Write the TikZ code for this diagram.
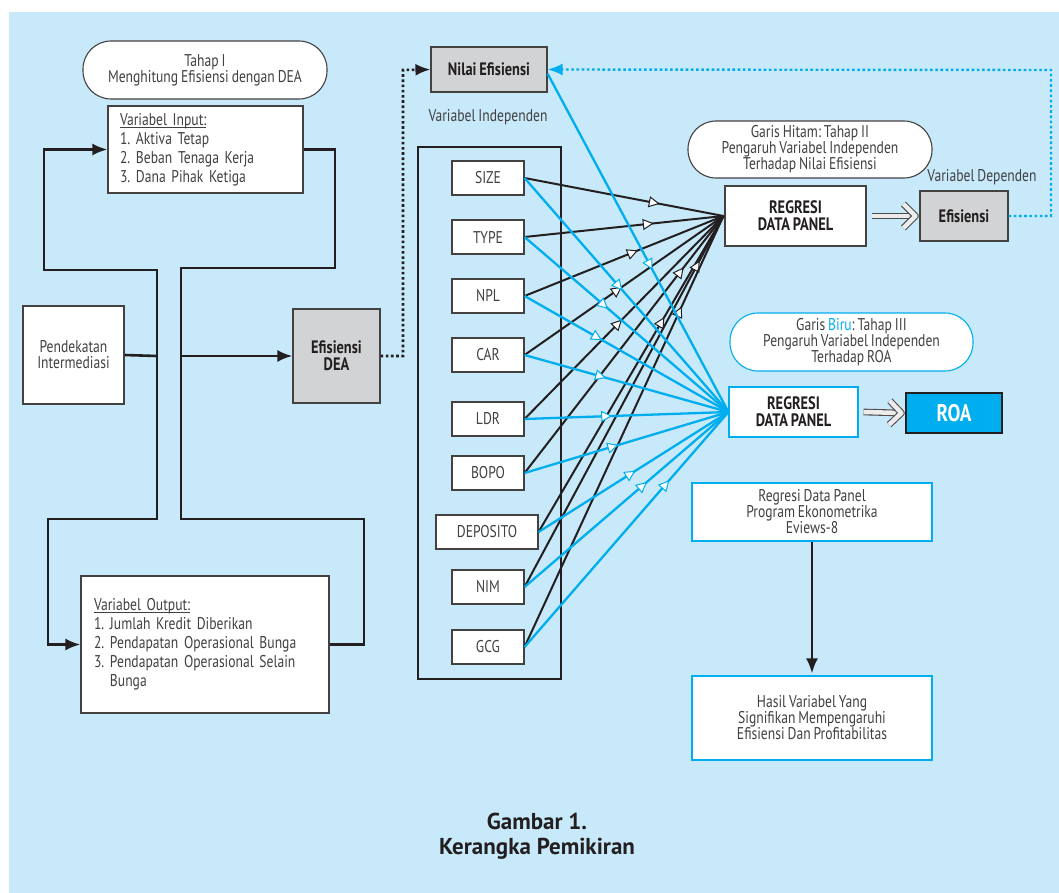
\documentclass[tikz,border=0pt]{standalone}
\usepackage{fontspec}
\setmainfont{PT Sans}[FakeStretch=0.8, WordSpace=0.8]
\newfontfamily\capfont{PT Sans}
\usetikzlibrary{arrows.meta,calc,positioning,decorations.markings}
\definecolor{bgblue}{RGB}{199,233,249}
\definecolor{cyanline}{RGB}{0,174,239}
\definecolor{darkline}{RGB}{35,31,32}
\definecolor{boxgray}{RGB}{209,211,212}
\definecolor{txtgray}{RGB}{65,64,66}
\frenchspacing
\newcommand{\undertext}[1]{\setbox0\hbox{#1}\rlap{\rule[-2.2pt]{\wd0}{0.8pt}}\box0}

\begin{document}
\begin{tikzpicture}[x=1pt, y=-1pt,
    box/.style={draw=darkline!85, line width=1.1pt, fill=white, align=center, inner sep=0pt, text=txtgray, font=\fontsize{17}{16}\selectfont},
    listbox/.style={box, align=left, font=\fontsize{17}{19}\selectfont},
    oval/.style={box, rounded corners=28pt},
    greybox/.style={box, fill=boxgray, text=darkline, font=\fontsize{18}{17}\selectfont\bfseries},
    boldbox/.style={box, text=darkline, font=\fontsize{18}{17}\selectfont\bfseries},
    varbox/.style={box, minimum width=72pt, minimum height=34pt},
    plain/.style={text=txtgray, font=\fontsize{17}{16}\selectfont},
    frameline/.style={draw=darkline, line width=2.6pt, -{Latex[length=15pt,width=12pt]}},
    blackline/.style={draw=darkline, line width=2pt},
    blueline/.style={draw=cyanline, line width=2.3pt},
    tipat/.style={postaction={decorate, decoration={markings,
        mark=at position #1 with {\arrow{Triangle[length=11pt,width=11pt,fill=white,line width=1pt]}}}}},
    dotline/.style={line width=2.6pt, dash pattern=on 2.6pt off 2.6pt, -{Latex[length=15pt,width=12pt]}},
    hollow/.style={draw=darkline!80, line width=1.1pt, double=gray!15, double distance=4.5pt,
      postaction={decorate, decoration={markings, mark=at position 1 with {
        \draw[draw=darkline!80, line width=1.1pt, double=gray!15, double distance=4.5pt, line join=round]
          (-12pt,-12pt) -- (0pt,0pt) -- (-12pt,12pt);}}}}
  ]
  % background
  \useasboundingbox (0,0) rectangle (1059,893);
  \fill[white] (0,0) rectangle (1059,893);
  \fill[bgblue] (9,12) rectangle (1059,893);

  % Tahap I: DEA
  \node[oval, minimum width=244pt, minimum height=58pt] (tahap1) at (205,70) {Tahap I\\Menghitung Efisiensi dengan DEA};
  \node[listbox, text width=171pt, minimum width=195pt, minimum height=87pt] (input) at (205.5,149.5)
    {\undertext{Variabel Input:}\\1. Aktiva Tetap\\2. Beban Tenaga Kerja\\3. Dana Pihak Ketiga};
  \node[box, minimum width=101pt, minimum height=98pt] (pendekatan) at (73.5,355) {Pendekatan\\Intermediasi};
  \node[greybox, minimum width=87pt, minimum height=94pt] (effdea) at (336.5,356) {Efisiensi\\DEA};
  \node[listbox, text width=222pt, minimum width=248pt, minimum height=137pt] (output) at (205,644.5)
    {\undertext{Variabel Output:}\\1. Jumlah Kredit Diberikan\\2. Pendapatan Operasional Bunga\\3. Pendapatan Operasional Selain\\\phantom{3. }Bunga};

  \coordinate (jl) at (157,356);
  \coordinate (jr) at (181,356);
  \draw[frameline, -] (pendekatan.east) -- (jl);
  \draw[frameline] (jl) |- (44,270) |- (input.west);
  \draw[frameline] (jl) |- (48,519) |- (output.west);
  \draw[frameline, -] (input.east) -| (335,268) -| (181,519) -- (364,519) |- (output.east);
  \draw[frameline] (jr) -- (effdea.west);

  % Nilai efisiensi and variables
  \node[greybox, minimum width=116pt, minimum height=45pt] (nilai) at (489,69.5) {Nilai Efisiensi};
  \node[plain] (varind) at (488,117) {Variabel Independen};
  \node[draw=darkline, line width=2.4pt, minimum width=143pt, minimum height=532pt] (varframe) at (489.5,413) {};
  \foreach \n/\t/\yy in {size/SIZE/178, type/TYPE/237, npl/NPL/296, car/CAR/355, ldr/LDR/419, bopo/BOPO/473, nim/NIM/587, gcg/GCG/647}
    \node[varbox] (\n) at (488,\yy) {\t};
  \node[varbox, minimum width=102pt] (deposito) at (487,532) {DEPOSITO};

  \draw[dotline, draw=darkline] (effdea.east) -| (403,70) -- (nilai.west);

  % Tahap II
  \node[oval, minimum width=244pt, minimum height=57pt] (garis2) at (810,149.5)
    {Garis Hitam: Tahap II\\Pengaruh Variabel Independen\\Terhadap Nilai Efisiensi};
  \node[boldbox, minimum width=141pt, minimum height=60pt] (regA) at (795.5,216) {REGRESI\\DATA PANEL};
  \node[greybox, minimum width=88pt, minimum height=50pt] (effB) at (964,216) {Efisiensi};
  \node[plain] (vardep) at (982,177) {Variabel Dependen};
  \coordinate (hubA) at ([xshift=-1pt]regA.west);
  \draw[hollow] ([xshift=5pt]regA.east) -- ([xshift=-4pt]effB.west);
  \draw[dotline, draw=cyanline, line width=2.4pt] (effB.east) -| (1051,70) -- (nilai.east);

  % Tahap III
  \node[oval, draw=cyanline, minimum width=243pt, minimum height=58pt] (garis3) at (851.5,342)
    {Garis \textcolor{cyanline}{Biru}: Tahap III\\Pengaruh Variabel Independen\\Terhadap ROA};
  \node[boldbox, draw=cyanline, minimum width=129pt, minimum height=50pt] (regB) at (793.5,412) {REGRESI\\DATA PANEL};
  \node[box, fill=cyanline, draw=darkline, text=white, font=\fontsize{24}{24}\selectfont\bfseries,
    minimum width=96pt, minimum height=40pt] (roa) at (954,413) {ROA};
  \coordinate (hubB) at (regB.west);
  \draw[hollow] ([xshift=5pt]regB.east) -- ([xshift=-4pt]roa.west);

  % black lines: Tahap II
  \foreach \n/\pa in {size/.68, type/.65, npl/.57, car/.49, ldr/.49, bopo/.80, deposito/.68, nim/.88, gcg/.79}
    \draw[blackline, tipat=\pa] (\n.east) -- (hubA);
  % blue lines: Tahap III
  \foreach \n/\pa in {size/.48, type/.41, npl/.38, car/.40, ldr/.43, bopo/.46, deposito/.51, nim/.60, gcg/.71}
    \draw[blueline, tipat=\pa] (\n.east) -- (hubB);
  \draw[blueline, tipat=.58] ([yshift=-4pt]nilai.east) -- (hubB);

  % software and result
  \node[box, draw=cyanline, minimum width=240pt, minimum height=58pt] (eviews) at (812,512)
    {Regresi Data Panel\\Program Ekonometrika\\Eviews-8};
  \node[box, draw=cyanline, minimum width=240pt, minimum height=84pt] (hasil) at (812,718)
    {Hasil Variabel Yang\\Signifikan Mempengaruhi\\Efisiensi Dan Profitabilitas};
  \draw[draw=darkline, line width=2.4pt, -{Latex[length=15pt,width=12pt]}, shorten >=2pt] (eviews.south) -- (hasil.north);

  \node[text=darkline, font=\capfont\fontsize{23}{25}\selectfont\bfseries, align=center] (caption) at (537,836)
    {Gambar 1.\\Kerangka Pemikiran};
\end{tikzpicture}
\end{document}
